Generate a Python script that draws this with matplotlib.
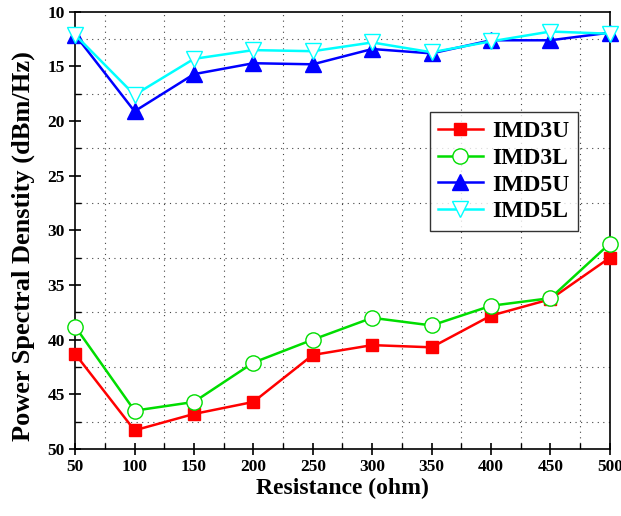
import matplotlib
matplotlib.use('Agg')
import matplotlib.pyplot as plt
from matplotlib.ticker import MultipleLocator

plt.rcParams['font.family'] = 'Liberation Serif'
plt.rcParams['font.weight'] = 'bold'

resistance = [50, 100, 150, 200, 250, 300, 350, 400, 450, 500]
imd3u = [41.3, 48.3, 46.8, 45.7, 41.4, 40.5, 40.7, 37.8, 36.3, 32.5]
imd3l = [38.8, 46.5, 45.7, 42.1, 40.0, 38.0, 38.7, 36.9, 36.2, 31.2]
imd5u = [12.1, 19.1, 15.7, 14.7, 14.8, 13.4, 13.8, 12.6, 12.6, 11.9]
imd5l = [12.1, 17.6, 14.3, 13.5, 13.6, 12.8, 13.7, 12.7, 11.8, 12.0]

fig = plt.figure(figsize=(6.21, 5.16), dpi=100)
ax = fig.add_axes([0.121, 0.130, 0.861, 0.847])

ax.plot(resistance, imd3u, color='red', lw=1.8, marker='s', ms=9, label='IMD3U', clip_on=False, zorder=3)
ax.plot(resistance, imd3l, color='#00dd00', lw=1.8, marker='o', ms=11, mfc='white', mec='#00dd00', label='IMD3L', clip_on=False, zorder=3)
ax.plot(resistance, imd5u, color='blue', lw=1.8, marker='^', ms=12, label='IMD5U', clip_on=False, zorder=3)
ax.plot(resistance, imd5l, color='cyan', lw=1.8, marker='v', ms=12, mfc='white', mec='cyan', label='IMD5L', clip_on=False, zorder=3)

ax.set_xlim(50, 500)
ax.set_ylim(50, 10)
ax.xaxis.set_major_locator(MultipleLocator(50))
ax.xaxis.set_minor_locator(MultipleLocator(25))
ax.yaxis.set_major_locator(MultipleLocator(5))
ax.yaxis.set_minor_locator(MultipleLocator(2.5))
ax.grid(which='minor', ls=(0, (1, 4)), color='#444444', lw=0.8)
ax.tick_params(which='major', direction='inout', length=8, width=1.2, labelsize=12.5)
ax.tick_params(which='minor', direction='in', length=4, width=1)
for lab in ax.get_xticklabels() + ax.get_yticklabels():
    lab.set_fontweight('bold')
for s in ax.spines.values():
    s.set_linewidth(1.2)

ax.set_xlabel('Resistance (ohm)', fontsize=17, fontweight='bold', labelpad=2)
ax.set_ylabel('Power Spectral Denstity (dBm/Hz)', fontsize=19, fontweight='bold')
ax.yaxis.set_label_coords(-0.075, 0.465)

leg = ax.legend(loc='upper right', bbox_to_anchor=(0.94, 0.77), fancybox=False, edgecolor='black',
                prop={'weight': 'bold', 'size': 17}, handlelength=1.9, handletextpad=0.4,
                borderpad=0.35, labelspacing=0.22, borderaxespad=0)
leg.get_frame().set_linewidth(1)

fig.savefig('out.png', dpi=100)
